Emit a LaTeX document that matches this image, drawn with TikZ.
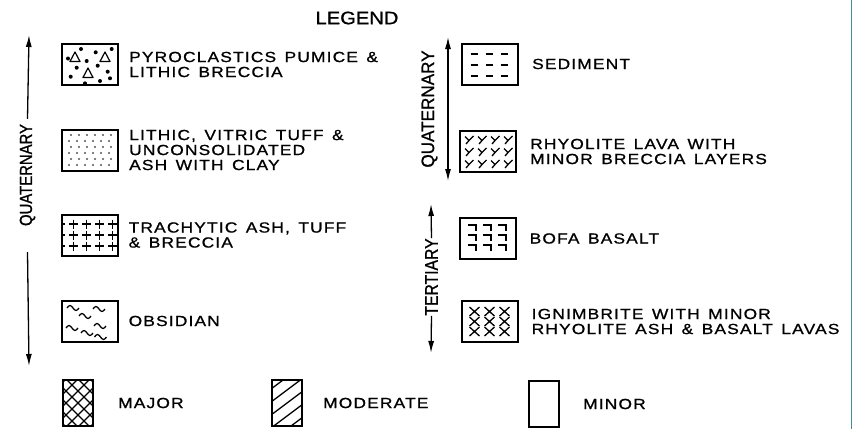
\documentclass[tikz,border=0pt]{standalone}
\usepackage{fontspec}
\setmainfont{Liberation Sans}[FakeStretch=1.12, FakeBold=1]
\newfontfamily\lblfont{Liberation Sans}[FakeStretch=1.18, LetterSpace=8, FakeBold=1]
\newfontfamily\ageleft{Liberation Sans}[FakeStretch=0.85, FakeBold=1]
\newfontfamily\ageright{Liberation Sans}[FakeStretch=0.95, FakeBold=1]
\newcommand\lblsize{\lblfont\fontsize{14.7}{15}\selectfont\spaceskip=8.5pt plus 1pt\relax}
\usepackage{tikz}
\usetikzlibrary{arrows.meta, positioning}
\definecolor{edgeteal}{RGB}{70,140,150}

\begin{document}
\begin{tikzpicture}[
  x=1pt, y=-1pt,
  node distance=10pt,
  unit/.style={rectangle, draw, line width=2pt, minimum width=56pt, minimum height=41pt, inner sep=0pt},
  keybox/.style={rectangle, draw, line width=2pt, minimum width=30pt, minimum height=46pt, inner sep=0pt},
  lbl/.style={align=left, inner sep=0pt, font=\lblsize},
  age/.style={rotate=90, inner sep=1pt},
  arrow/.style={-{Latex[length=12pt,width=6pt]}, line width=1.3pt},
  both/.style={{Latex[length=12pt,width=6pt]}-{Latex[length=12pt,width=6pt]}, line width=1.3pt},
  pat/.style={line width=1.3pt}
]
  \useasboundingbox (0,0) rectangle (852,429);
  \draw[line width=0.8pt, edgeteal] (851.5,0) -- (851.5,429);

  \node[font=\fontsize{18}{20}\selectfont] (title) at (357,18) {LEGEND};

  % left column
  \node[unit] (pyro) at (90,64.5) {};
  \node[lbl, right=of pyro] (pyrot) {PYROCLASTICS PUMICE \&\\LITHIC BRECCIA};
  \node[unit] (tuff) at (90,150) {};
  \node[lbl, right=of tuff] (tufft) {LITHIC, VITRIC TUFF \&\\UNCONSOLIDATED\\ASH WITH CLAY};
  \node[unit] (trach) at (89.5,235) {};
  \node[lbl, right=of trach] (tracht) {TRACHYTIC ASH, TUFF\\\& BRECCIA};
  \node[unit] (obs) at (89.5,321) {};
  \node[lbl, right=of obs] (obst) {OBSIDIAN};

  \node[age, font=\ageleft\fontsize{17.5}{18}\selectfont] (quatL) at (27.5,175) {QUATERNARY};
  \coordinate (qtopL) at (29,35);
  \coordinate (qbotL) at (29,366);
  \draw[arrow] ([yshift=4pt]quatL.east) -- (qtopL);
  \draw[arrow] ([yshift=-25pt]quatL.west) -- (qbotL);

  % right column
  \node[unit] (sed) at (490,64) {};
  \node[lbl, right=13pt of sed] (sedt) {SEDIMENT};
  \node[unit] (rhyo) at (488,151.5) {};
  \node[lbl, right=13pt of rhyo] (rhyot) {RHYOLITE LAVA WITH\\MINOR BRECCIA LAYERS};
  \node[unit] (bofa) at (487.5,238.5) {};
  \node[lbl, right=13pt of bofa] (bofat) {BOFA BASALT};
  \node[unit] (ign) at (489.5,321.5) {};
  \node[lbl, right=13pt of ign] (ignt) {IGNIMBRITE WITH MINOR\\RHYOLITE ASH \& BASALT LAVAS};

  \node[age, font=\ageright\fontsize{18}{18}\selectfont] (quatR) at (429.5,109) {QUATERNARY};
  \coordinate (qtopR) at (448,37);
  \coordinate (qbotR) at (448,181);
  \draw[both] (qtopR) -- (qbotR);

  \node[age, inner sep=0pt, font=\ageleft\fontsize{18.5}{18}\selectfont] (tert) at (431.5,277) {TERTIARY};
  \coordinate (ttop) at (431,204);
  \coordinate (tbot) at (431,353);
  \draw[arrow] (tert.east) -- (ttop);
  \draw[arrow] (tert.west) -- (tbot);

  % fills
  \begin{scope}[shift={(pyro.center)}]
    \foreach \p/\q in {-15/-7.5, 15/-7.5, -2/8.5}
      \draw[line width=1.2pt, line join=round] (\p-5,\q+4.5) -- (\p,\q-5) -- (\p+5,\q+4.5) -- cycle;
    \foreach \p/\q in {-9/-15.5, 5.7/-12.2, 21.7/-15.5, -3.3/-3.5, 7.7/1.2, -13.3/3.2,
                       -19.3/12.2, -5/18.8, 10/16.5, 17.7/7.2, 20/13.8, -22/-6}
      \fill (\p,\q) circle (2pt);
  \end{scope}
  \begin{scope}[shift={(tuff.center)}]
    \foreach \q [count=\i] in {-15,-9,-3,3,9,15}
      \foreach \p in {-22,-14,-6,2,10,18}
        \fill ({\p+2*mod(\i,2)+1},\q) circle (0.9pt);
  \end{scope}
  \begin{scope}[shift={(trach.center)}]
    \clip (-28,-20.5) rectangle (28,20.5);
    \foreach \q in {-11,0,11}
      \foreach \p in {-29,-16,-3,10,23}
        \draw[pat] (\p-4.5,\q) -- (\p+4.5,\q) (\p,\q-4.5) -- (\p,\q+4.5);
  \end{scope}
  \begin{scope}[shift={(obs.center)}]
    \foreach \p/\q in {-16.5/-13, 9.5/-12, -4.5/-5, -17.5/7, 10.5/5, -2.5/12, 11/16}
      \draw[pat] (\p-6,\q) sin (\p-3,\q-2.5) cos (\p,\q) sin (\p+3,\q+2.5) cos (\p+6,\q);
  \end{scope}
  \begin{scope}[shift={(sed.center)}]
    \foreach \q in {-10,1,12}
      \foreach \p in {-16,-1,14}
        \draw[pat] (\p-3.5,\q) -- (\p+3.5,\q);
  \end{scope}
  \begin{scope}[shift={(rhyo.center)}]
    \foreach \q in {-11,1,13}
      \foreach \p in {-19,-6,7,20}
        \draw[pat] (\p-4,\q-4) -- (\p,\q) -- (\p+4.5,\q-4.5) (\p,\q) -- (\p-3,\q+3.5);
  \end{scope}
  \begin{scope}[shift={(bofa.center)}]
    \foreach \q in {-11,-1,9}
      \foreach \p in {-15,0,15}
        \draw[pat] (\p-4.5,\q-2.5) -- (\p+3.5,\q-2.5) -- (\p+3.5,\q+3);
  \end{scope}
  \begin{scope}[shift={(ign.center)}]
    \clip (-28,-20.5) rectangle (28,20.5);
    \foreach \q in {-10,0,10}
      \foreach \p in {-15,0,15}
        \draw[pat] (\p-5,\q-4.5) -- (\p+5,\q+4.5) (\p-5,\q+4.5) -- (\p+5,\q-4.5);
  \end{scope}

  % key
  \node[keybox] (major) at (78,403) {};
  \node[lbl, right=24pt of major] (majort) {MAJOR};
  \node[keybox] (moder) at (287,403) {};
  \node[lbl, right=20pt of moder] (modert) {MODERATE};
  \node[keybox] (minor) at (544,404) {};
  \node[lbl, right=23pt of minor] (minort) {MINOR};

  \begin{scope}[shift={(major.center)}]
    \clip (-15,-23) rectangle (15,23);
    \foreach \p in {-60,-48,...,60}
      \draw[pat] (\p-30,-30) -- (\p+30,30) (\p-30,30) -- (\p+30,-30);
  \end{scope}
  \begin{scope}[shift={(moder.center)}]
    \clip (-15,-23) rectangle (15,23);
    \foreach \q in {-52,-39,...,52}
      \draw[pat] (-20,\q+15) -- (20,\q-15);
  \end{scope}
\end{tikzpicture}
\end{document}
